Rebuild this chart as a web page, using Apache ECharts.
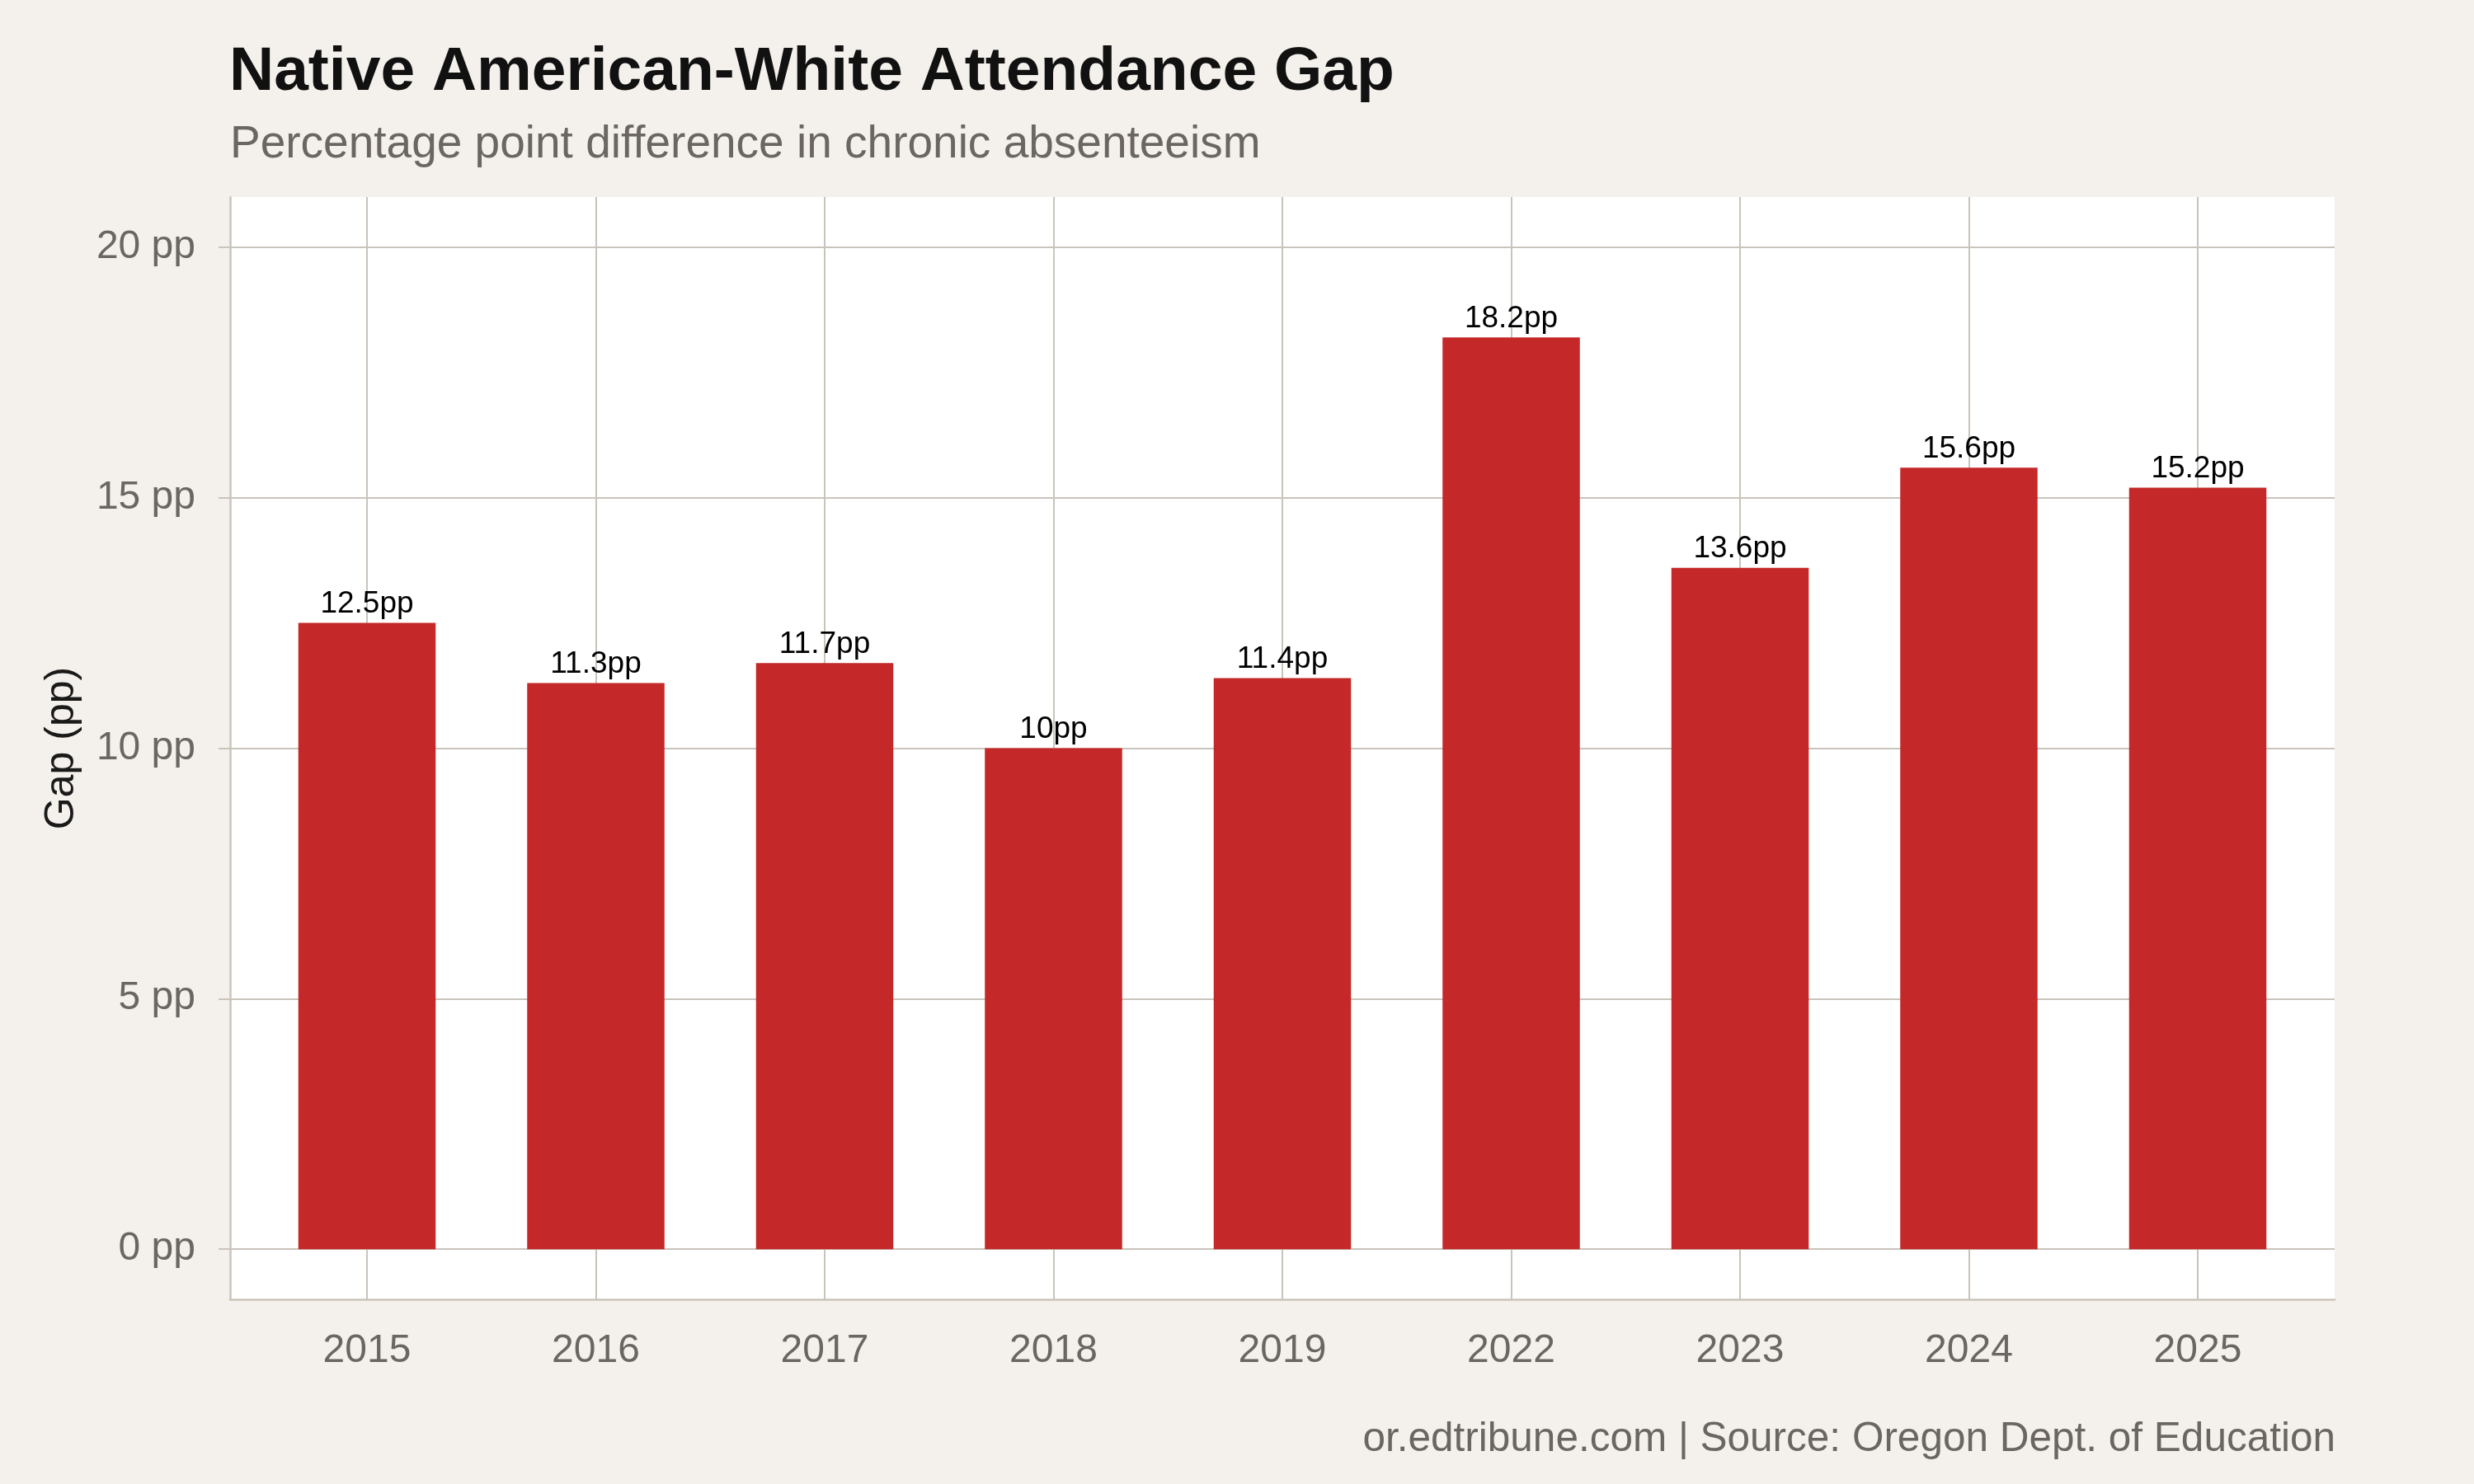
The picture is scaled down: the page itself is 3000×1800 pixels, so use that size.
<!DOCTYPE html>
<html>
<head>
<meta charset="utf-8">
<title>Native American-White Attendance Gap</title>
<script src="https://cdn.jsdelivr.net/npm/echarts@6/dist/echarts.min.js"></script>
<style>
  html, body { margin: 0; padding: 0; background: #f4f1ec; }
  #chart { width: 3000px; height: 1800px; }
</style>
</head>
<body>
<div id="chart"></div>
<script>
// data
const years = ['2015', '2016', '2017', '2018', '2019', '2022', '2023', '2024', '2025']
const gapValues = [12.5, 11.3, 11.7, 10, 11.4, 18.2, 13.6, 15.6, 15.2]
const yTicks = [0, 5, 10, 15, 20]

const font = "'Liberation Sans', Arial, Helvetica, sans-serif"
const gridColor = '#c9c4bb'
const greyText = '#6b6661'
const barColor = '#c42828'

const chart = echarts.init(document.getElementById('chart'))

const option = {
  backgroundColor: '#f4f1ec',
  animation: false,
  textStyle: { fontFamily: font },
  title: [
    {
      text: 'Native American-White Attendance Gap',
      left: 278, top: 51, padding: 0,
      textStyle: { fontSize: 75, fontWeight: 'bold', color: '#111111', fontFamily: font }
    },
    {
      text: 'Percentage point difference in chronic absenteeism',
      left: 279, top: 148, padding: 0,
      textStyle: { fontSize: 55, fontWeight: 'normal', color: greyText, fontFamily: font }
    },
    {
      text: 'or.edtribune.com | Source: Oregon Dept. of Education',
      right: 168, top: 1721, padding: 0,
      textStyle: { fontSize: 49.5, fontWeight: 'normal', color: greyText, fontFamily: font }
    }
  ],
  grid: [
    // panel (white background + axis lines)
    { left: 279, right: 169, top: 239, bottom: 224, show: true, backgroundColor: '#ffffff', borderWidth: 0 },
    // horizontal grid lines, y labels (0..20)
    { left: 279, right: 169, top: 300, bottom: 285 },
    // categories (centres of first/last year), full panel height
    { left: 445, right: 335, top: 239, bottom: 224 }
  ],
  xAxis: [
    {
      gridIndex: 0, type: 'value', min: 0, max: 1,
      axisLine: { show: true, onZero: false, lineStyle: { color: gridColor, width: 2.5 } },
      axisTick: { show: false }, axisLabel: { show: false }, splitLine: { show: false }
    },
    { gridIndex: 1, type: 'value', min: 0, max: 1, show: false },
    {
      gridIndex: 2, type: 'category', data: years, boundaryGap: false,
      axisLine: { show: false },
      axisTick: { show: true, length: 14, lineStyle: { color: gridColor, width: 2 } },
      axisLabel: { color: greyText, fontSize: 48, margin: 39, fontFamily: font },
      splitLine: { show: true, lineStyle: { color: gridColor, width: 2 } }
    }
  ],
  yAxis: [
    {
      gridIndex: 0, type: 'value', min: 0, max: 1,
      axisLine: { show: true, onZero: false, lineStyle: { color: gridColor, width: 2.5 } },
      axisTick: { show: false }, axisLabel: { show: false }, splitLine: { show: false }
    },
    {
      gridIndex: 1, type: 'value', min: yTicks[0], max: yTicks[yTicks.length - 1], interval: 5,
      name: 'Gap (pp)', nameLocation: 'middle', nameGap: 179,
      nameTextStyle: { fontSize: 50, color: '#1a1a1a', fontFamily: font },
      axisLine: { show: false },
      axisTick: { show: true, length: 14, lineStyle: { color: gridColor, width: 2 } },
      axisLabel: { color: greyText, fontSize: 48, margin: 42, fontFamily: font, formatter: '{value} pp' },
      splitLine: { show: true, lineStyle: { color: gridColor, width: 2 } }
    },
    { gridIndex: 2, type: 'value', min: -1, max: 21, show: false }
  ],
  series: [
    {
      type: 'bar',
      xAxisIndex: 2,
      yAxisIndex: 2,
      data: gapValues,
      barWidth: '60%',
      clip: false,
      itemStyle: { color: barColor },
      label: {
        show: true, position: 'top', distance: 4,
        formatter: '{c}pp', fontSize: 37, color: '#000000', fontFamily: font
      }
    }
  ]
}

chart.setOption(option)
</script>
</body>
</html>
